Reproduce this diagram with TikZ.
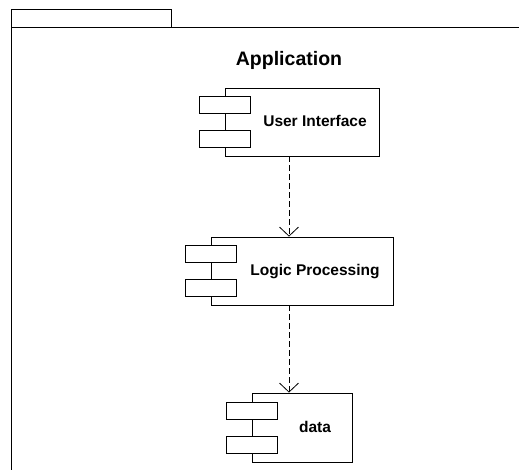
\documentclass[tikz,border=0pt]{standalone}
\usepackage{fontspec}
\setmainfont{Liberation Sans}
\usepackage{tikz}
\usetikzlibrary{arrows.meta}

\begin{document}
\begin{tikzpicture}[x=1pt, y=-1pt,
	comp/.style={shape=rectangle, draw=black, line width=0.8pt, minimum height=68pt},
	port/.style={shape=rectangle, draw=black, fill=white, line width=0.8pt, minimum width=51pt, minimum height=17pt},
	lbl/.style={anchor=base, font=\fontsize{15.5}{18}\selectfont\bfseries},
	dep/.style={-{Straight Barb[length=9pt, width=19pt]}, line width=0.8pt, dash pattern=on 6pt off 3pt}]
	\clip (0,0) rectangle (519,470);

	% package frame
	\draw[line width=0.8pt] (11,9) rectangle (171,27);
	\draw[line width=0.8pt] (11,470) -- (11,27) -- (519,27);
	\node[anchor=base, font=\fontsize{19.5}{22}\selectfont\bfseries] (app) at (289,66) {Application};

	% components
	\node[comp, minimum width=154pt] (ui) at (302,122) {};
	\node[port] (ui1) at ([yshift=17pt]ui.west) {};
	\node[port] (ui2) at ([yshift=-17pt]ui.west) {};
	\node[lbl] (uitext) at ([xshift=13pt, yshift=-5pt]ui.center) {User Interface};

	\node[comp, minimum width=182pt] (lp) at (302,271) {};
	\node[port] (lp1) at ([yshift=17pt]lp.west) {};
	\node[port] (lp2) at ([yshift=-17pt]lp.west) {};
	\node[lbl] (lptext) at ([xshift=13pt, yshift=-5pt]lp.center) {Logic Processing};

	\node[comp, minimum width=100pt, minimum height=69pt] (data) at (302,427.5) {};
	\node[port] (data1) at ([yshift=17pt]data.west) {};
	\node[port] (data2) at ([yshift=-17pt]data.west) {};
	\node[lbl] (datatext) at ([xshift=13pt, yshift=-5pt]data.center) {data};

	% dependencies
	\draw[dep] (app |- ui.south) -- (app |- lp.north);
	\draw[dep] (app |- lp.south) -- (app |- data.north);
\end{tikzpicture}
\end{document}
